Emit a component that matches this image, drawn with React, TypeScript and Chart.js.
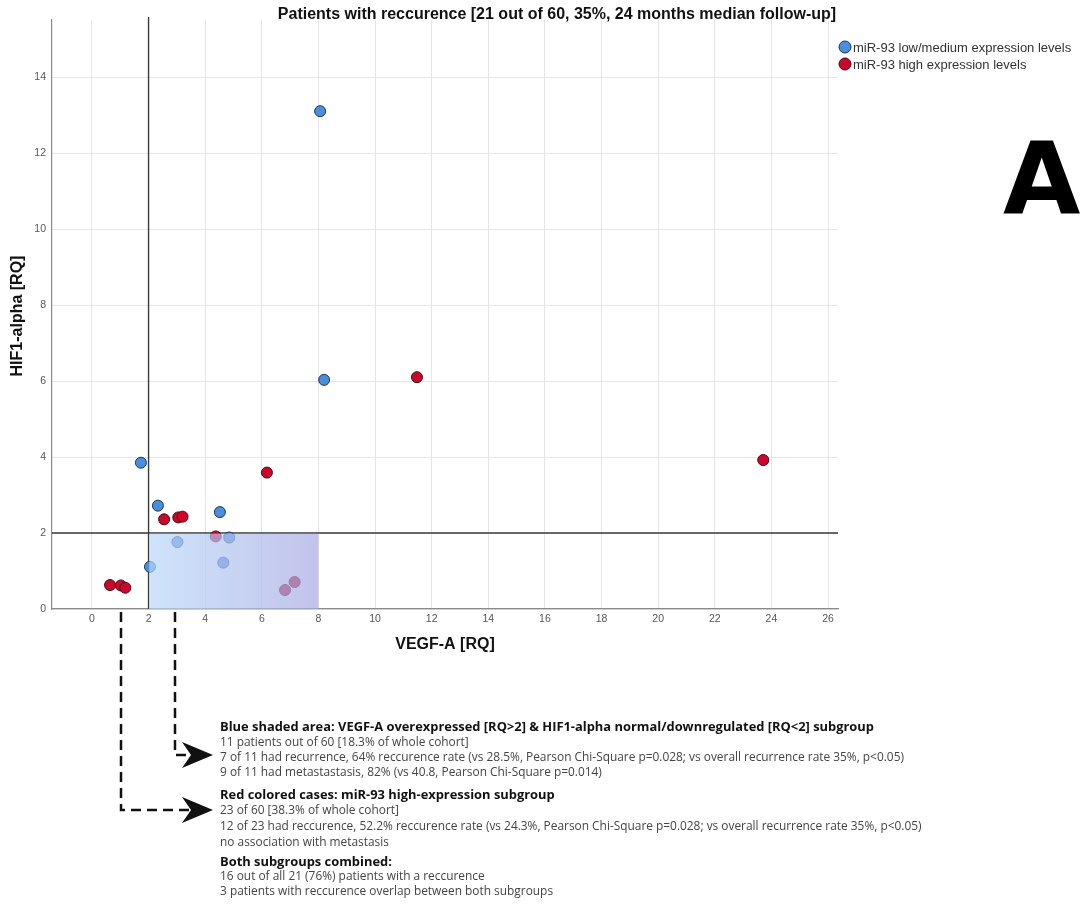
import { useEffect, useRef } from "react";
import { Chart, registerables } from "chart.js";

Chart.register(...registerables);

// ---- data ----
const lowX = [8.06, 8.2, 1.73, 2.33, 4.52, 3.02, 4.85, 4.64, 2.05];
const lowY = [13.1, 6.03, 3.85, 2.72, 2.55, 1.76, 1.88, 1.22, 1.11];
const highX = [11.48, 23.71, 6.18, 2.55, 3.05, 3.2, 0.64, 1.02, 1.18, 4.37, 7.16, 6.82];
const highY = [6.1, 3.92, 3.59, 2.36, 2.41, 2.43, 0.63, 0.62, 0.56, 1.91, 0.71, 0.5];
const xTicks = [0, 2, 4, 6, 8, 10, 12, 14, 16, 18, 20, 22, 24, 26];
const yTicks = [0, 2, 4, 6, 8, 10, 12, 14];
const cutX = 2;
const cutY = 2;
const boxX = [2, 8];
const boxY = [0, 2];
const seriesNames = ["miR-93 low/medium expression levels", "miR-93 high expression levels"];
const titleText = "Patients with reccurence [21 out of 60, 35%, 24 months median follow-up]";
const xTitle = "VEGF-A [RQ]";
const yTitle = "HIF1-alpha [RQ]";
const panelLabel = "A";
const blueNote = [
  "Blue shaded area: VEGF-A overexpressed [RQ>2] & HIF1-alpha normal/downregulated [RQ<2] subgroup",
  "11 patients out of 60 [18.3% of whole cohort]",
  "7 of 11 had recurrence, 64% reccurence rate (vs 28.5%, Pearson Chi-Square p=0.028; vs overall recurrence rate 35%, p<0.05)",
  "9 of 11 had metastastasis, 82% (vs 40.8, Pearson Chi-Square p=0.014)",
];
const redNote = [
  "Red colored cases: miR-93 high-expression subgroup",
  "23 of 60 [38.3% of whole cohort]",
  "12 of 23 had reccurence, 52.2% reccurence rate (vs 24.3%, Pearson Chi-Square p=0.028; vs overall recurrence rate 35%, p<0.05)",
  "no association with metastasis",
];
const bothNote = [
  "Both subgroups combined:",
  "16 out of all 21 (76%) patients with a reccurence",
  "3 patients with reccurence overlap between both subgroups",
];

const BLUE = "#4a8fdd";
const BLUE_B = "#1e3350";
const RED = "#c9082c";
const RED_B = "#4a0612";
const SANS = "'Liberation Sans', Arial, sans-serif";
const NOTE = "'Open Sans', 'Noto Sans', sans-serif";

function arrow(ctx: CanvasRenderingContext2D, tipX: number, y: number) {
  ctx.beginPath();
  ctx.moveTo(tipX, y);
  ctx.lineTo(tipX - 31, y - 13);
  ctx.lineTo(tipX - 22, y);
  ctx.lineTo(tipX - 31, y + 13);
  ctx.closePath();
  ctx.fill();
}

const overlay = {
  id: "overlay",
  beforeDatasetsDraw(chart: any) {
    const { ctx, chartArea, scales } = chart;
    const px = scales.x.getPixelForValue(cutX);
    const py = scales.y.getPixelForValue(cutY);
    ctx.save();
    ctx.strokeStyle = "#3a3a3a";
    ctx.lineWidth = 1.4;
    ctx.beginPath();
    ctx.moveTo(px, chartArea.top - 3);
    ctx.lineTo(px, chartArea.bottom);
    ctx.moveTo(chartArea.left, py);
    ctx.lineTo(chartArea.right, py);
    ctx.stroke();
    ctx.restore();
  },
  afterDatasetsDraw(chart: any) {
    const { ctx, scales } = chart;
    const x0 = scales.x.getPixelForValue(boxX[0]);
    const x1 = scales.x.getPixelForValue(boxX[1]);
    const y0 = scales.y.getPixelForValue(boxY[1]);
    const y1 = scales.y.getPixelForValue(boxY[0]);
    ctx.save();
    const g = ctx.createLinearGradient(x0, 0, x1, 0);
    g.addColorStop(0, "rgba(186,216,251,0.7)");
    g.addColorStop(1, "rgba(168,170,226,0.7)");
    ctx.fillStyle = g;
    ctx.fillRect(x0 + 0.7, y0 + 0.7, x1 - x0 - 0.7, y1 - y0 - 0.7);
    ctx.restore();
  },
  afterDraw(chart: any) {
    const { ctx } = chart;
    ctx.save();
    // title
    ctx.fillStyle = "#111";
    ctx.textBaseline = "middle";
    ctx.textAlign = "center";
    ctx.font = `bold 16px ${SANS}`;
    ctx.fillText(titleText, 557, 15);
    // axis titles
    ctx.fillText(xTitle, 445, 645);
    ctx.save();
    ctx.translate(18, 316);
    ctx.rotate(-Math.PI / 2);
    ctx.fillText(yTitle, 0, 0);
    ctx.restore();
    // panel label
    ctx.textAlign = "left";
    ctx.textBaseline = "alphabetic";
    ctx.font = `bold 100px 'DejaVu Sans', sans-serif`;
    ctx.fillStyle = "#000";
    ctx.fillText(panelLabel, 1003, 213);
    // legend
    const leg = [
      [BLUE, BLUE_B, 47],
      [RED, RED_B, 64],
    ] as const;
    ctx.font = `13px ${SANS}`;
    ctx.textBaseline = "middle";
    leg.forEach(([f, b, y], i) => {
      ctx.beginPath();
      ctx.arc(845, y, 6, 0, Math.PI * 2);
      ctx.fillStyle = f;
      ctx.fill();
      ctx.lineWidth = 1;
      ctx.strokeStyle = b;
      ctx.stroke();
      ctx.fillStyle = "#333";
      ctx.fillText(seriesNames[i], 853, y + 1);
    });
    // dashed connectors
    ctx.strokeStyle = "#111";
    ctx.lineWidth = 2.5;
    ctx.setLineDash([10, 6]);
    ctx.beginPath();
    ctx.moveTo(121, 612);
    ctx.lineTo(121, 810);
    ctx.lineTo(190, 810);
    ctx.moveTo(175, 612);
    ctx.lineTo(175, 755);
    ctx.lineTo(190, 755);
    ctx.stroke();
    ctx.setLineDash([]);
    ctx.fillStyle = "#111";
    arrow(ctx, 213, 755);
    arrow(ctx, 213, 810);
    // notes
    const block = (lines: string[], ys: number[]) => {
      lines.forEach((t, i) => {
        ctx.font = i === 0 ? `bold 12.9px ${NOTE}` : `11.9px ${NOTE}`;
        ctx.fillStyle = i === 0 ? "#111" : "#444";
        ctx.fillText(t, 220, ys[i]);
      });
    };
    block(blueNote, [727, 743, 758, 773]);
    block(redNote, [795, 811, 827, 843]);
    block(bothNote, [862, 877, 892]);
    ctx.restore();
  },
};

export default function App() {
  const ref = useRef<HTMLCanvasElement | null>(null);
  useEffect(() => {
    if (!ref.current) return;
    const chart = new Chart(ref.current, {
      type: "scatter",
      data: {
        datasets: [
          {
            label: seriesNames[0],
            data: lowX.map((x, i) => ({ x, y: lowY[i] })),
            backgroundColor: BLUE,
            borderColor: BLUE_B,
            borderWidth: 1,
            pointRadius: 5.5,
          },
          {
            label: seriesNames[1],
            data: highX.map((x, i) => ({ x, y: highY[i] })),
            backgroundColor: RED,
            borderColor: RED_B,
            borderWidth: 1,
            pointRadius: 5.5,
          },
        ],
      },
      options: {
        responsive: false,
        animation: false,
        devicePixelRatio: 1,
        layout: { padding: { left: 0, top: 20, right: 242, bottom: 266 } },
        plugins: { legend: { display: false }, tooltip: { enabled: false }, title: { display: false } },
        scales: {
          x: {
            type: "linear",
            min: -1.41,
            max: 26.35,
            afterBuildTicks: (a: any) => {
              a.ticks = xTicks.map((v) => ({ value: v }));
            },
            afterFit: (a: any) => {
              a.height = 30;
            },
            ticks: { color: "#555", font: { size: 10.5, family: "'Liberation Sans Narrow', 'Liberation Sans', sans-serif" }, padding: 4 },
            grid: { color: "#e6e6e6", drawTicks: false },
            border: { color: "#8a8a8a", width: 1.2 },
          },
          y: {
            type: "linear",
            min: 0,
            max: 15.5,
            afterBuildTicks: (a: any) => {
              a.ticks = yTicks.map((v) => ({ value: v }));
            },
            afterFit: (a: any) => {
              a.width = 52;
            },
            ticks: { color: "#555", font: { size: 10.5, family: "'Liberation Sans Narrow', 'Liberation Sans', sans-serif" }, padding: 6 },
            grid: { color: "#e6e6e6", drawTicks: false },
            border: { color: "#8a8a8a", width: 1.2 },
          },
        },
      },
      plugins: [overlay],
    });
    return () => chart.destroy();
  }, []);
  return (
    <div style={{ position: "fixed", left: 0, top: 0, width: 1080, height: 905, background: "#fff" }}>
      <canvas ref={ref} width={1080} height={905} />
    </div>
  );
}
